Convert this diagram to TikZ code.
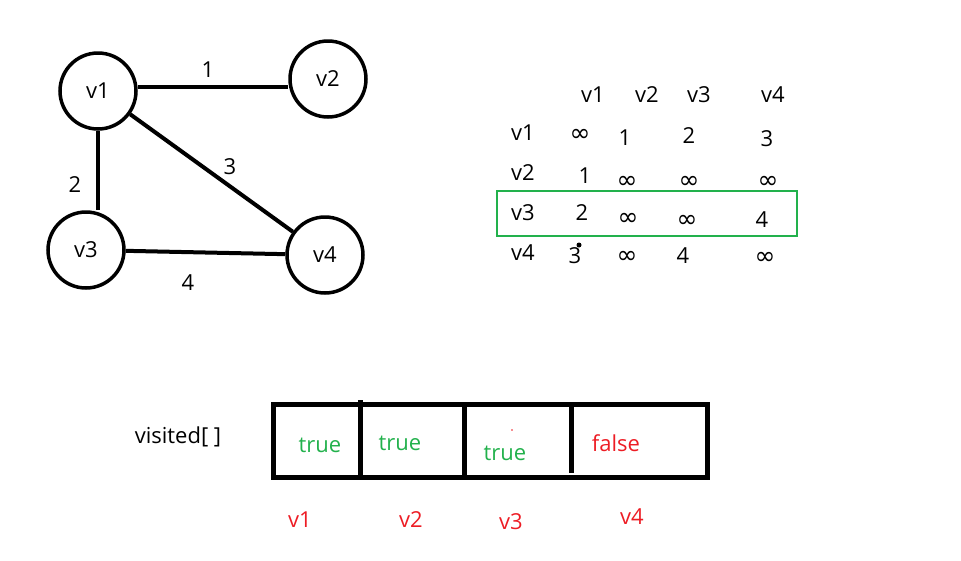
\documentclass[tikz,border=0pt]{standalone}
\usepackage{fontspec}
\setmainfont{Open Sans}
\newfontfamily\symfont{DejaVu Sans}
\definecolor{pgreen}{RGB}{34,177,76}
\definecolor{pred}{RGB}{237,28,36}
\newcommand{\infsym}{{\symfont\fontsize{25}{28}\selectfont ∞}}
\begin{document}
\begin{tikzpicture}[x=1pt,y=-1pt,
    vtx/.style={circle,draw,line width=3.5pt,minimum size=76pt,inner sep=0pt},
    edg/.style={line width=4pt},
    box/.style={line width=5pt},
    tv/.style={text=pgreen},
    fv/.style={text=pred},
    every node/.style={font=\fontsize{22}{26}\selectfont}]
  \useasboundingbox (0,0) rectangle (961,560);
  % the graph
  \node[vtx] (v1) at (98,91) {v1};
  \node[vtx] (v2) at (328,79) {v2};
  \node[vtx] (v3) at (86,250) {v3};
  \node[vtx] (v4) at (325,255) {v4};
  \draw[edg] ([yshift=4pt]v1.east) -- ([yshift=4pt]v1.east -| v2.west);
  \draw[edg] (v1.south) -- (v1.south |- v3.north);
  \draw[edg] (v1) -- (v4);
  \draw[edg] (v3) -- (v4);
  \node (w1) at (208,70) {1};
  \node (w2) at (75,185) {2};
  \node (w3) at (230,167) {3};
  \node (w4) at (188,283) {4};
  % the adjacency matrix
  \foreach \i/\x in {1/593,2/647,3/699,4/773}{
    \node (c\i) at (\x,95) {v\i};
  }
  \foreach \i/\y in {1/133,2/173,3/213,4/253}{
    \node (r\i) at (523,\y) {v\i};
  }
  \foreach \n/\x/\y/\t in {11/580/135/\infsym, 12/625/138/1, 13/689/136/2, 14/767/139/3,
      21/585/176/1, 22/627/182/\infsym, 23/689/182/\infsym, 24/768/182/\infsym,
      31/582/213/2, 32/628/219/\infsym, 33/687/221/\infsym, 34/762/220/4,
      41/575/256/3, 42/627/257/\infsym, 43/683/256/4, 44/765/258/\infsym}{
    \node (m\n) at (\x,\y) {\t};
  }
  \fill (579,245) circle (2.5pt);
  \draw[pgreen,line width=2.5pt] (497,191) rectangle (797,236);
  % the visited array
  \node (vis) at (178,437) {visited[ ]};
  \draw[box] (273,404) rectangle (707,477);
  \draw[box] (360,400) -- (360,477);
  \draw[box] (464,404) -- (464,477);
  \draw[box] (571,404) -- (571,473);
  \node[tv] (t1) at (320,445) {true};
  \node[tv] (t2) at (400,443) {true};
  \node[tv] (t3) at (505,453) {true};
  \node[fv] (t4) at (616,443) {false};
  \fill[pred] (512,430) circle (0.8pt);
  \foreach \i/\x/\y in {1/300/520,2/411/520,3/511/522,4/632/517}{
    \node[fv] (k\i) at (\x,\y) {v\i};
  }
\end{tikzpicture}
\end{document}
